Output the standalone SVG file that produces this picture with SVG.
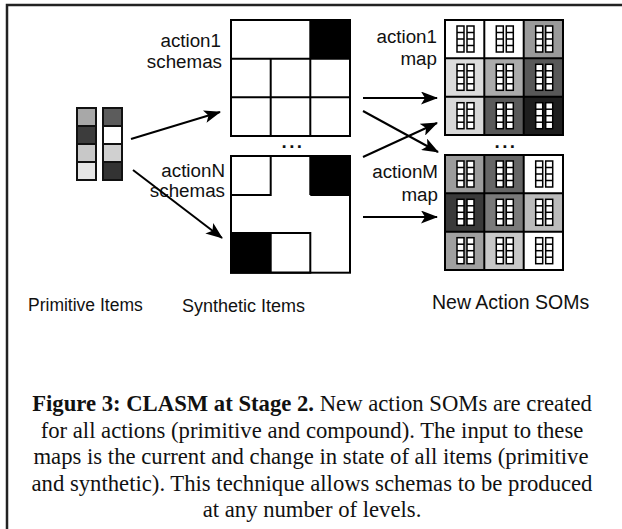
<svg xmlns="http://www.w3.org/2000/svg" width="622" height="529" viewBox="0 0 622 529">
<style>
.g{fill:none;stroke:#000;stroke-width:2}
.c{stroke:#111;stroke-width:2}
.lb{font-family:"Liberation Sans",Arial,sans-serif;font-size:18.8px;fill:#111}
.bl{font-family:"Liberation Sans",Arial,sans-serif;font-size:17.5px;fill:#111}
.cap{font-family:"Liberation Serif","Times New Roman",serif;font-size:22.7px;fill:#111}
.ar{stroke:#000;stroke-width:2;fill:none}
.ic{fill:#fff;stroke:#000;stroke-width:1.5}
</style>
<defs>
<marker id="ah" markerUnits="userSpaceOnUse" markerWidth="17" markerHeight="13" refX="16" refY="6.5" orient="auto">
<path d="M0,0 L17,6.5 L0,13 L4,6.5 Z" fill="#000"/>
</marker>
<g id="ic">
<rect class="ic" x="0" y="0" width="7" height="26"/>
<line class="ic" x1="0" y1="6.5" x2="7" y2="6.5"/>
<line class="ic" x1="0" y1="13" x2="7" y2="13"/>
<line class="ic" x1="0" y1="19.5" x2="7" y2="19.5"/>
<rect class="ic" x="10" y="0" width="7" height="26"/>
<line class="ic" x1="10" y1="6.5" x2="17" y2="6.5"/>
<line class="ic" x1="10" y1="13" x2="17" y2="13"/>
<line class="ic" x1="10" y1="19.5" x2="17" y2="19.5"/>
</g>
</defs>
<rect width="622" height="529" fill="#fff"/>
<path d="M7,529 V5 H622" fill="none" stroke="#222" stroke-width="2.5"/>

<g id="primitive-items">
<rect class="c" x="77" y="108" width="19" height="18" fill="#a8a8a8"/>
<rect class="c" x="77" y="126" width="19" height="18" fill="#3c3c3c"/>
<rect class="c" x="77" y="144" width="19" height="18" fill="#c8c8c8"/>
<rect class="c" x="77" y="162" width="19" height="18" fill="#e6e6e6"/>
<rect class="c" x="103" y="108" width="19" height="18" fill="#5c5c5c"/>
<rect class="c" x="103" y="126" width="19" height="18" fill="#ffffff"/>
<rect class="c" x="103" y="144" width="19" height="18" fill="#d0d0d0"/>
<rect class="c" x="103" y="162" width="19" height="18" fill="#333333"/>
</g>

<g id="action1-schemas">
<rect x="310" y="20" width="40" height="38.7" fill="#000"/>
<rect class="g" x="231" y="20" width="119" height="116"/>
<line class="g" x1="231" y1="58.7" x2="350" y2="58.7"/>
<line class="g" x1="231" y1="97.3" x2="350" y2="97.3"/>
<line class="g" x1="270.7" y1="58.7" x2="270.7" y2="136"/>
<line class="g" x1="310.3" y1="20" x2="310.3" y2="136"/>
<text class="lb" x="221" y="47" text-anchor="end">action1</text>
<text class="lb" x="222" y="68" text-anchor="end">schemas</text>
</g>

<text class="lb" x="293" y="148" text-anchor="middle" font-weight="bold" letter-spacing="2.5">...</text>

<g id="actionN-schemas">
<rect x="310" y="156" width="40" height="39" fill="#000"/>
<rect x="231" y="233" width="40" height="39.7" fill="#000"/>
<rect class="g" x="231" y="156" width="119" height="116.7"/>
<rect class="g" x="231" y="156" width="39.7" height="39"/>
<line class="g" x1="310.3" y1="156" x2="310.3" y2="195"/>
<line class="g" x1="310.3" y1="195" x2="350" y2="195"/>
<rect class="g" x="231" y="233" width="79.3" height="39.7"/>
<line class="g" x1="270.7" y1="233" x2="270.7" y2="272.7"/>
<text class="lb" x="225" y="177" text-anchor="end">actionN</text>
<text class="lb" x="225" y="197" text-anchor="end">schemas</text>
</g>

<g id="action1-map">
<rect x="445" y="20" width="39.3" height="38.3" fill="#ffffff"/>
<rect x="484.3" y="20" width="39.3" height="38.3" fill="#ffffff"/>
<rect x="523.7" y="20" width="39.3" height="38.3" fill="#9a9a9a"/>
<rect x="445" y="58.3" width="39.3" height="38.3" fill="#dcdcdc"/>
<rect x="484.3" y="58.3" width="39.3" height="38.3" fill="#ababab"/>
<rect x="523.7" y="58.3" width="39.3" height="38.3" fill="#585858"/>
<rect x="445" y="96.7" width="39.3" height="38.3" fill="#d8d8d8"/>
<rect x="484.3" y="96.7" width="39.3" height="38.3" fill="#5a5a5a"/>
<rect x="523.7" y="96.7" width="39.3" height="38.3" fill="#1e1e1e"/>
<rect class="g" x="445" y="20" width="118" height="115"/>
<line class="g" x1="484.3" y1="20" x2="484.3" y2="135"/>
<line class="g" x1="523.7" y1="20" x2="523.7" y2="135"/>
<line class="g" x1="445" y1="58.3" x2="563" y2="58.3"/>
<line class="g" x1="445" y1="96.7" x2="563" y2="96.7"/>
<use href="#ic" x="457" y="26"/><use href="#ic" x="496.3" y="26"/><use href="#ic" x="535.7" y="26"/>
<use href="#ic" x="457" y="64.3"/><use href="#ic" x="496.3" y="64.3"/><use href="#ic" x="535.7" y="64.3"/>
<use href="#ic" x="457" y="102.7"/><use href="#ic" x="496.3" y="102.7"/><use href="#ic" x="535.7" y="102.7"/>
<text class="lb" x="437" y="43" text-anchor="end">action1</text>
<text class="lb" x="437" y="65" text-anchor="end">map</text>
</g>

<text class="lb" x="506" y="148" text-anchor="middle" font-weight="bold" letter-spacing="2.5">...</text>

<g id="actionM-map">
<rect x="445" y="155" width="39.3" height="38.3" fill="#9c9c9c"/>
<rect x="484.3" y="155" width="39.3" height="38.3" fill="#666666"/>
<rect x="523.7" y="155" width="39.3" height="38.3" fill="#ffffff"/>
<rect x="445" y="193.3" width="39.3" height="38.3" fill="#3a3a3a"/>
<rect x="484.3" y="193.3" width="39.3" height="38.3" fill="#7a7a7a"/>
<rect x="523.7" y="193.3" width="39.3" height="38.3" fill="#bbbbbb"/>
<rect x="445" y="231.7" width="39.3" height="38.3" fill="#a0a0a0"/>
<rect x="484.3" y="231.7" width="39.3" height="38.3" fill="#c8c8c8"/>
<rect x="523.7" y="231.7" width="39.3" height="38.3" fill="#ffffff"/>
<rect class="g" x="445" y="155" width="118" height="115"/>
<line class="g" x1="484.3" y1="155" x2="484.3" y2="270"/>
<line class="g" x1="523.7" y1="155" x2="523.7" y2="270"/>
<line class="g" x1="445" y1="193.3" x2="563" y2="193.3"/>
<line class="g" x1="445" y1="231.7" x2="563" y2="231.7"/>
<use href="#ic" x="457" y="161"/><use href="#ic" x="496.3" y="161"/><use href="#ic" x="535.7" y="161"/>
<use href="#ic" x="457" y="199.3"/><use href="#ic" x="496.3" y="199.3"/><use href="#ic" x="535.7" y="199.3"/>
<use href="#ic" x="457" y="237.7"/><use href="#ic" x="496.3" y="237.7"/><use href="#ic" x="535.7" y="237.7"/>
<text class="lb" x="438" y="178" text-anchor="end">actionM</text>
<text class="lb" x="438" y="201" text-anchor="end">map</text>
</g>

<g id="connectors">
<line class="ar" x1="131" y1="139" x2="220" y2="112" marker-end="url(#ah)"/>
<line class="ar" x1="133" y1="170" x2="222" y2="238" marker-end="url(#ah)"/>
<line class="ar" x1="363" y1="98" x2="437" y2="98" marker-end="url(#ah)"/>
<line class="ar" x1="363" y1="111" x2="438" y2="152" marker-end="url(#ah)"/>
<line class="ar" x1="363" y1="157" x2="437" y2="123" marker-end="url(#ah)"/>
<line class="ar" x1="363" y1="217" x2="437" y2="217" marker-end="url(#ah)"/>
</g>

<g id="labels">
<text class="bl" x="28" y="311">Primitive Items</text>
<text class="bl" x="182" y="312" style="font-size:18px">Synthetic Items</text>
<text class="bl" x="432" y="309" style="font-size:19.5px">New Action SOMs</text>
</g>

<g id="caption" class="cap" text-anchor="middle">
<text x="312" y="411"><tspan font-weight="bold">Figure 3: CLASM at Stage 2.</tspan> New action SOMs are created</text>
<text x="312" y="437.5">for all actions (primitive and compound). The input to these</text>
<text x="311" y="464">maps is the current and change in state of all items (primitive</text>
<text x="312" y="490.5">and synthetic). This technique allows schemas to be produced</text>
<text x="312" y="517">at any number of levels.</text>
</g>
</svg>
